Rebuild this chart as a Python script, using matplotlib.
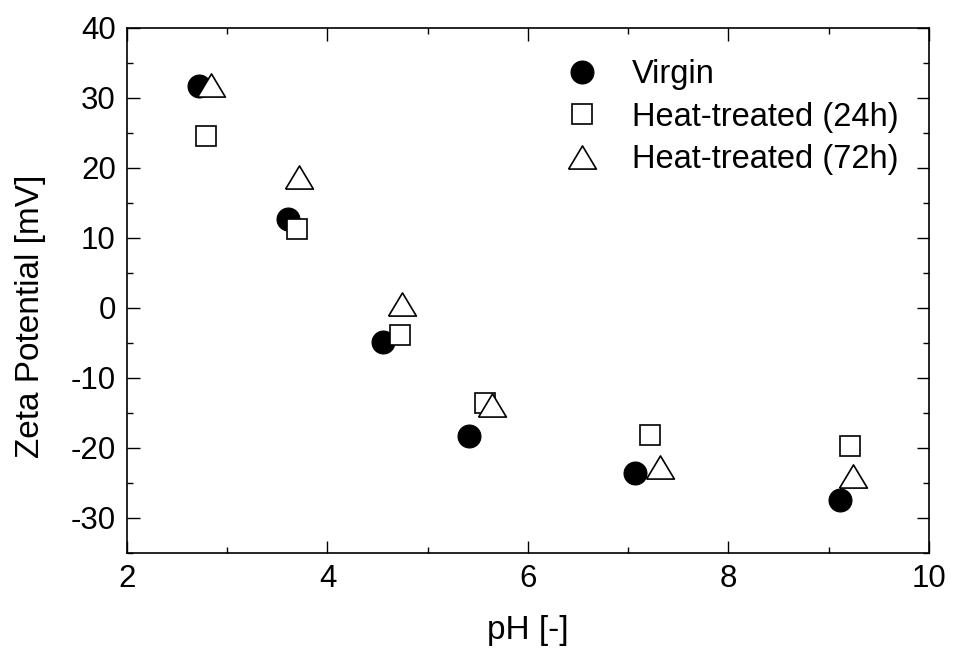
import numpy as np
import matplotlib
matplotlib.use("Agg")
import matplotlib.pyplot as plt
from matplotlib.ticker import MultipleLocator

plt.rcParams['font.family'] = ['Liberation Sans', 'DejaVu Sans']
plt.rcParams['axes.unicode_minus'] = False

# ===== data =====
ph_virgin = [2.72, 3.61, 4.55, 5.41, 7.07, 9.11]
zeta_virgin = [31.7, 12.7, -4.9, -18.4, -23.6, -27.5]

ph_24h = [2.79, 3.70, 4.72, 5.57, 7.22, 9.21]
zeta_24h = [24.6, 11.3, -3.9, -13.6, -18.2, -19.7]

ph_72h = [2.84, 3.72, 4.74, 5.64, 7.32, 9.24]
zeta_72h = [31.8, 18.7, 0.5, -13.9, -22.8, -24.1]

labels = ['Virgin', 'Heat-treated (24h)', 'Heat-treated (72h)']

# wide, flat open triangle
tri = [(-1.2, -1.0), (1.2, -1.0), (0.0, 1.0), (-1.2, -1.0)]

fs = 22.5

fig = plt.figure(figsize=(9.54, 6.55), dpi=100)
ax = fig.add_axes([0.1331, 0.1562, 0.8407, 0.8015])

ax.plot(ph_virgin, zeta_virgin, 'o', color='black', ms=16.5, mew=0.8, label=labels[0])
ax.plot(ph_24h, zeta_24h, 's', mfc='white', mec='black', ms=14.5, mew=1.2, label=labels[1])
ax.plot(ph_72h, zeta_72h, marker=tri, ls='none', mfc='white', mec='black', ms=20, mew=1.2, label=labels[2])

ax.set_xlim(2, 10)
ax.set_ylim(-35, 40)
ax.xaxis.set_major_locator(MultipleLocator(2))
ax.xaxis.set_minor_locator(MultipleLocator(1))
ax.yaxis.set_major_locator(MultipleLocator(10))
ax.yaxis.set_minor_locator(MultipleLocator(5))
ax.tick_params(which='both', direction='in', top=True, right=True, width=1, labelsize=fs)
ax.tick_params(which='major', length=9, pad=8)
ax.tick_params(which='minor', length=4.5)
for s in ax.spines.values():
    s.set_linewidth(1.2)

ax.set_xlabel('pH [-]', fontsize=24)
ax.set_ylabel('Zeta Potential [mV]', fontsize=24)
ax.xaxis.set_label_coords(0.5, -0.118)
ax.yaxis.set_label_coords(-0.101, 0.45)

ax.legend(loc='upper left', bbox_to_anchor=(0.519, 0.971), frameon=False, fontsize=23.5,
          handlelength=1.4, handletextpad=0.83, labelspacing=0.35, borderpad=0)

fig.savefig('out.png', dpi=100)
